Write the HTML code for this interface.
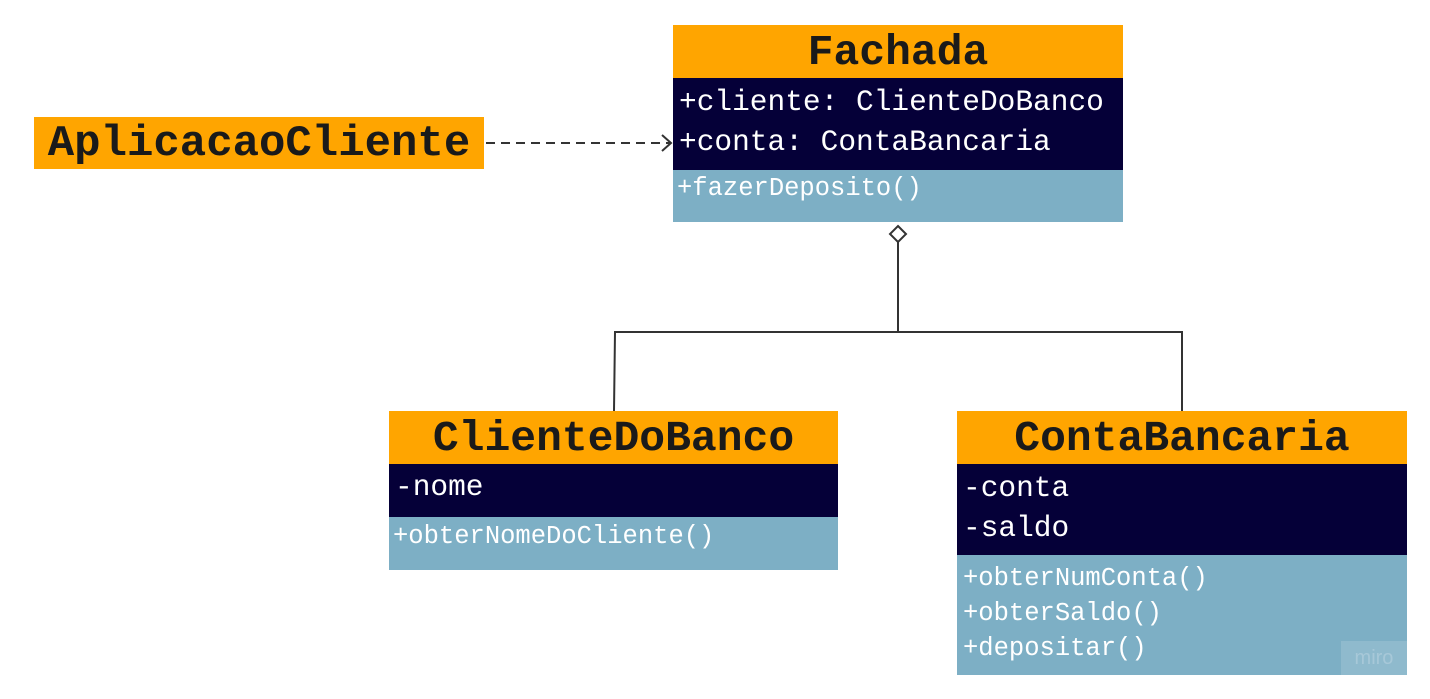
<!DOCTYPE html>
<html><head><style>
body{margin:0;width:1430px;height:699px;background:#fff;position:relative;overflow:hidden;font-family:"Liberation Mono",monospace}
.b{position:absolute}
.h{background:#ffa500;color:#1a1a1a;font-weight:bold;font-size:43px;text-align:center;line-height:55px}
.a{background:#050038;color:#fff;font-size:29.5px;padding-left:6px;box-sizing:border-box}
.m{background:#7dafc5;color:#fff;font-size:25.5px;padding-left:4px;box-sizing:border-box}
.l{position:absolute;white-space:pre}
</style></head><body>
<div class="b h" style="left:34px;top:117px;width:450px;height:52px;line-height:54px;font-size:44px">AplicacaoCliente</div>

<div class="b h" style="left:673px;top:25px;width:450px;height:53px">Fachada</div>
<div class="b a" style="left:673px;top:78px;width:450px;height:92px"><div class="l" style="left:6px;top:7px">+cliente: ClienteDoBanco</div><div class="l" style="left:6px;top:47px">+conta: ContaBancaria</div></div>
<div class="b m" style="left:673px;top:170px;width:450px;height:52px"><div class="l" style="left:4px;top:4px">+fazerDeposito()</div></div>

<div class="b h" style="left:389px;top:411px;width:449px;height:53px">ClienteDoBanco</div>
<div class="b a" style="left:389px;top:464px;width:449px;height:53px"><div class="l" style="left:6px;top:6px">-nome</div></div>
<div class="b m" style="left:389px;top:517px;width:449px;height:53px"><div class="l" style="left:4px;top:5px">+obterNomeDoCliente()</div></div>

<div class="b h" style="left:957px;top:411px;width:450px;height:53px">ContaBancaria</div>
<div class="b a" style="left:957px;top:464px;width:450px;height:91px"><div class="l" style="left:6px;top:7px">-conta</div><div class="l" style="left:6px;top:47px">-saldo</div></div>
<div class="b m" style="left:957px;top:555px;width:450px;height:120px"><div class="l" style="left:6px;top:9px">+obterNumConta()</div><div class="l" style="left:6px;top:44px">+obterSaldo()</div><div class="l" style="left:6px;top:79px">+depositar()</div>
<div class="l" style="left:384px;top:86px;width:66px;height:34px;background:#8fbacd;color:#a7c8d8;font-family:'Liberation Sans',sans-serif;font-size:20px;line-height:34px;text-align:center">miro</div></div>

<svg class="b" style="left:0;top:0" width="1430" height="699">
<line x1="486" y1="143" x2="670" y2="143" stroke="#333" stroke-width="2" stroke-dasharray="9,6"/>
<polyline points="662,135 671,143 662,151" fill="none" stroke="#333" stroke-width="2"/>
<polygon points="898,226 906,234 898,242 890,234" fill="#fff" stroke="#333" stroke-width="2"/>
<polyline points="898,242 898,332" fill="none" stroke="#333" stroke-width="2"/>
<polyline points="614,411 615,332 1182,332 1182,411" fill="none" stroke="#333" stroke-width="2"/>
</svg>
</body></html>
